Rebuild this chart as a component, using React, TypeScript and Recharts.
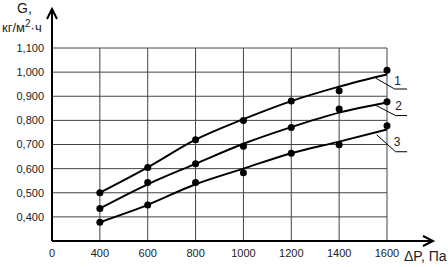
import React from "react";
import {
  ComposedChart,
  Line,
  XAxis,
  YAxis,
  CartesianGrid,
  ReferenceLine,
  ReferenceDot,
} from "recharts";

const pressures = [400, 600, 800, 1000, 1200, 1400, 1600];
const xTicks = [200, 400, 600, 800, 1000, 1200, 1400, 1600];
const yTicks = [0.4, 0.5, 0.6, 0.7, 0.8, 0.9, 1.0, 1.1];

// measured points
const points1 = [0.5, 0.605, 0.72, 0.8, 0.88, 0.923, 1.008];
const points2 = [0.435, 0.543, 0.62, 0.693, 0.77, 0.847, 0.877];
const points3 = [0.378, 0.449, 0.543, 0.583, 0.664, 0.699, 0.778];

// approximating curves as drawn
const curve1 = [0.5, 0.605, 0.72, 0.805, 0.88, 0.94, 0.99];
const curve2 = [0.435, 0.535, 0.62, 0.703, 0.772, 0.832, 0.874];
const curve3 = [0.378, 0.45, 0.535, 0.6, 0.664, 0.712, 0.762];

const curveLabels = ["1", "2", "3"];
const leaderStart = [
  { x: 1553, y: 0.975 },
  { x: 1548, y: 0.865 },
  { x: 1557, y: 0.74 },
];
const leaderBend = [
  { x: 1632, y: 0.93 },
  { x: 1636, y: 0.82 },
  { x: 1636, y: 0.67 },
];
const leaderEndX = 1684;
const labelPos = [
  { x: 1644, y: 0.965 },
  { x: 1648, y: 0.86 },
  { x: 1642, y: 0.71 },
];

const data = pressures.map((x, i) => ({
  x,
  c1: curve1[i],
  c2: curve2[i],
  c3: curve3[i],
  p1: points1[i],
  p2: points2[i],
  p3: points3[i],
}));

const fmtY = (v: number) => v.toFixed(3).replace(".", ",");
const fmtX = (v: number) => (v === 200 ? "0" : String(v));

const font = "'Liberation Sans', Arial, sans-serif";
const tickStyle = { fontSize: 11, fill: "#222", fontFamily: font };

export default function App() {
  return (
    <div style={{ position: "absolute", left: 0, top: 0, width: 448, height: 267, background: "#fff" }}>
      <ComposedChart
        width={448}
        height={267}
        data={data}
        margin={{ top: 48, right: 61, bottom: 0, left: 0 }}
      >
        <CartesianGrid stroke="#444" strokeWidth={1} />
        <XAxis
          dataKey="x"
          type="number"
          domain={[200, 1600]}
          ticks={xTicks}
          tickFormatter={fmtX}
          tickLine={false}
          height={26}
          axisLine={{ stroke: "#000", strokeWidth: 2 }}
          tick={tickStyle}
          interval={0}
        />
        <YAxis
          type="number"
          domain={[0.3, 1.1]}
          ticks={yTicks}
          tickFormatter={fmtY}
          tickLine={false}
          width={52}
          axisLine={{ stroke: "#000", strokeWidth: 2 }}
          tick={tickStyle}
          interval={0}
        />
        {["c1", "c2", "c3"].map((k) => (
          <Line
            key={k}
            dataKey={k}
            type="monotone"
            stroke="#000"
            strokeWidth={2}
            dot={false}
            activeDot={false}
            isAnimationActive={false}
          />
        ))}
        {["p1", "p2", "p3"].map((k) => (
          <Line
            key={k}
            dataKey={k}
            stroke="none"
            dot={{ r: 3.5, fill: "#000", stroke: "none" }}
            activeDot={false}
            isAnimationActive={false}
          />
        ))}
        {curveLabels.map((lbl, i) => (
          <ReferenceLine
            key={"a" + lbl}
            segment={[leaderStart[i], leaderBend[i]]}
            stroke="#000"
            strokeWidth={1}
            ifOverflow="visible"
          />
        ))}
        {curveLabels.map((lbl, i) => (
          <ReferenceLine
            key={"b" + lbl}
            segment={[leaderBend[i], { x: leaderEndX, y: leaderBend[i].y }]}
            stroke="#000"
            strokeWidth={1}
            ifOverflow="visible"
          />
        ))}
        {curveLabels.map((lbl, i) => (
          <ReferenceDot
            key={"l" + lbl}
            x={labelPos[i].x}
            y={labelPos[i].y}
            ifOverflow="visible"
            shape={(p: any) => (
              <text
                x={p.cx}
                y={p.cy}
                textAnchor="middle"
                dominantBaseline="central"
                fontSize={12}
                fontFamily={font}
                fill="#222"
              >
                {lbl}
              </text>
            )}
          />
        ))}
      </ComposedChart>
      <svg
        width={448}
        height={267}
        style={{ position: "absolute", left: 0, top: 0, pointerEvents: "none" }}
      >
        <line x1={52} y1={49} x2={52} y2={11} stroke="#000" strokeWidth={2} />
        <polyline points="47,19 52,9 57,19" fill="none" stroke="#000" strokeWidth={2} />
        <line x1={386} y1={241} x2={432} y2={241} stroke="#000" strokeWidth={2} />
        <polyline points="423,236 433,241 423,246" fill="none" stroke="#000" strokeWidth={2} />
        <text x={17} y={13} fontSize={14} fontFamily={font} fill="#222">
          G,
        </text>
        <text x={2} y={32} fontSize={13} fontFamily={font} fill="#222">
          кг/м<tspan dy={-5} fontSize={10}>2</tspan>
          <tspan dy={5}>·ч</tspan>
        </text>
        <text x={404} y={261} fontSize={14} fontFamily={font} fill="#222">
          ΔP, Па
        </text>
      </svg>
    </div>
  );
}
